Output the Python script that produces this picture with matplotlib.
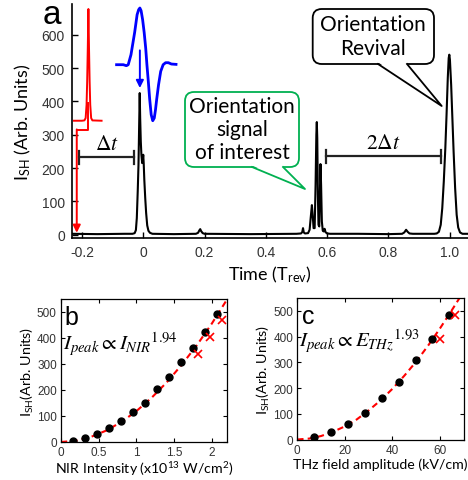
import matplotlib
matplotlib.use('Agg')
import matplotlib.pyplot as plt
from matplotlib.patches import FancyBboxPatch, Polygon
from matplotlib.lines import Line2D
from matplotlib.transforms import Affine2D

plt.rcParams['font.family'] = ['Lato', 'DejaVu Sans']
plt.rcParams['mathtext.fontset'] = 'custom'
plt.rcParams['mathtext.rm'] = 'Lato'
plt.rcParams['mathtext.it'] = 'Lato:italic'

# ---- panel a: SH signal vs time ----
trace_t = [-0.233, -0.15, -0.06, -0.035, -0.028, -0.024, -0.021, -0.018, -0.0155,
           -0.0135, -0.0115, -0.010, -0.008, -0.006, -0.0035, -0.0015, 0.0, 0.0015,
           0.0035, 0.0065, 0.0095, 0.013, 0.017, 0.022, 0.030,
           0.10, 0.172, 0.179, 0.183, 0.186, 0.189, 0.194, 0.20, 0.35,
           0.50, 0.515, 0.519, 0.5215, 0.524, 0.528, 0.538, 0.543, 0.547, 0.5505,
           0.553, 0.556, 0.5595, 0.5625, 0.565, 0.5665, 0.568, 0.570, 0.572, 0.5745,
           0.5765, 0.5785, 0.5805, 0.583, 0.586, 0.589, 0.592, 0.595, 0.600, 0.61,
           0.70, 0.80, 0.845, 0.852, 0.858, 0.863, 0.869, 0.88, 0.95,
           0.958, 0.965, 0.971, 0.976, 0.981, 0.986, 0.990, 0.994, 0.997, 0.999,
           1.001, 1.005, 1.009, 1.013, 1.018, 1.023, 1.028, 1.034, 1.042, 1.06]
trace_i = [3, 2, 3, 3, 5, 14, 50, 130, 210,
           320, 425, 350, 280, 240, 215, 225, 240, 215,
           165, 110, 65, 28, 12, 6, 3,
           2, 3, 6, 13, 17, 11, 5, 3, 2,
           3, 4, 8, 20, 7, 4, 5, 15, 55, 89,
           60, 20, 20, 150, 300, 338, 290, 120, 30, 25,
           120, 212, 150, 40, 12, 10, 18, 8, 4, 3,
           3, 2, 3, 7, 15, 9, 4, 3, 3,
           4, 9, 30, 80, 160, 260, 360, 470, 530, 540,
           525, 450, 350, 250, 140, 60, 22, 7, 3, 3]

# NIR pump pulse (red) and THz pulse (blue) sketches
nir_t = [-0.226, -0.20, -0.192, -0.188, -0.185, -0.183, -0.181, -0.179,
         -0.177, -0.175, -0.173, -0.170, -0.166, -0.136]
nir_i = [342, 342, 343, 350, 390, 460, 560, 677, 560, 460, 390, 350, 343, 342]
thz_t = [-0.087, -0.065, -0.055, -0.049, -0.040, -0.028, -0.020, -0.015, -0.011,
         -0.007, -0.002, 0.003, 0.008, 0.012, 0.017, 0.021, 0.026, 0.031, 0.036,
         0.040, 0.044, 0.050, 0.057, 0.065, 0.073, 0.082, 0.092, 0.107]
thz_i = [510, 510, 507, 510, 540, 607, 660, 675, 680, 672, 645, 607, 560, 510,
         455, 407, 360, 342, 350, 375, 407, 450, 490, 510, 516, 516, 512, 511]

a_xticks = [-0.2, 0, 0.2, 0.4, 0.6, 0.8, 1.0]
a_xticklabels = ['-0.2', '0', '0.2', '0.4', '0.6', '0.8', '1.0']
a_yticks = [0, 100, 200, 300, 400, 500, 600]

# ---- panel b: NIR intensity scan ----
b_x = [0.16, 0.32, 0.48, 0.64, 0.80, 0.96, 1.11, 1.27, 1.43, 1.59, 1.75, 1.91, 2.07]
b_y = [5, 15, 32, 54, 82, 117, 151, 204, 251, 308, 360, 423, 493]
b_xx = [1.82, 1.98, 2.13]
b_xy = [340, 405, 469]
b_fit_x = [0, 0.2, 0.4, 0.6, 0.8, 1.0, 1.2, 1.4, 1.6, 1.8, 2.0, 2.2]
b_fit_y = [0, 5, 20, 44, 77, 119, 170, 229, 297, 372, 456, 548]

# ---- panel c: THz field scan ----
c_x = [7.1, 14.2, 21.3, 28.4, 35.5, 42.6, 49.7, 56.8, 63.9]
c_y = [9, 30, 60, 104, 161, 225, 308, 391, 482]
c_xx = [59.8, 66.4]
c_xy = [391, 482]
c_fit_x = [0, 5, 10, 15, 20, 25, 30, 35, 40, 45, 50, 55, 60, 65, 68.2]
c_fit_y = [0, 3.6, 13.5, 30, 51, 78, 113, 152, 197, 248, 303, 365, 432, 503, 550]

W, H = 468, 481
fig = plt.figure(figsize=(W / 100, H / 100), dpi=100)
pix = Affine2D().scale(1 / W, -1 / H).translate(0, 1) + fig.transFigure
tickfont = dict(family='Liberation Sans', color='#333333')

# panel a
ax = fig.add_axes([71.7 / W, 1 - 239.3 / H, (468 - 71.7) / W, (239.3 - 5) / H])
ax.plot(trace_t, trace_i, color='k', lw=1.5, zorder=3)
ax.plot(nir_t, nir_i, color='red', lw=1.4)
ax.plot([-0.179, -0.179, -0.217], [395, 315, 315], color='red', lw=1.4)
ax.annotate('', xy=(-0.217, 6), xytext=(-0.217, 316),
            arrowprops=dict(arrowstyle='-|>', color='red', lw=1.4, mutation_scale=11,
                            shrinkA=0, shrinkB=0))
ax.plot(thz_t, thz_i, color='blue', lw=2.0)
ax.annotate('', xy=(-0.011, 440), xytext=(-0.011, 553),
            arrowprops=dict(arrowstyle='-|>', color='blue', lw=1.4, mutation_scale=11,
                            shrinkA=0, shrinkB=0))
for x0, x1, y, lab in [(-0.21, -0.03, 232, r'$\Delta t$'), (0.596, 0.973, 235, r'$2\Delta t$')]:
    ax.plot([x0, x1], [y, y], color='#222222', lw=1.6)
    ax.plot([x0, x0], [y - 20, y + 20], color='#222222', lw=1.6)
    ax.plot([x1, x1], [y - 20, y + 20], color='#222222', lw=1.6)
    ax.text((x0 + x1) / 2, y + 12, lab, ha='center', va='bottom', fontsize=15.5,
            math_fontfamily='stix')
ax.set_xlim(-0.2335, 1.06)
ax.set_ylim(-10.5, 692)
ax.set_xticks(a_xticks)
ax.set_xticklabels(a_xticklabels, **tickfont)
ax.set_yticks(a_yticks)
ax.set_yticklabels([str(v) for v in a_yticks], **tickfont)
ax.tick_params(direction='in', length=4, width=1, labelsize=10, pad=5)
for s in ['top', 'right']:
    ax.spines[s].set_visible(False)
for s in ['left', 'bottom']:
    ax.spines[s].set_linewidth(1.2)
ax.set_xlabel(r'Time (T$_\mathrm{rev}$)', fontsize=13, labelpad=3)
ax.set_ylabel(r'I$_\mathrm{SH}$ (Arb. Units)', fontsize=13, labelpad=6)
fig.text(43, 24, 'a', transform=pix, fontsize=24, family='Liberation Sans', va='baseline')

# callouts
def callout(x0, y0, x1, y1, base, tip, color, lines, ys, cx):
    box = FancyBboxPatch((x0, y0), x1 - x0, y1 - y0, boxstyle='round,pad=0,rounding_size=9',
                         transform=pix, fc='white', ec=color, lw=1.3, zorder=5)
    fig.add_artist(box)
    fig.add_artist(Polygon([(base[0] + 0.8, y1 - 1.2), tip, (base[1] - 0.8, y1 - 1.2)],
                           closed=True, fc='white', ec='none', transform=pix, zorder=6))
    fig.add_artist(Line2D([base[0], tip[0], base[1]], [y1, tip[1], y1], color=color,
                          lw=1.3, transform=pix, zorder=7))
    for txt, yy in zip(lines, ys):
        fig.text(cx, yy, txt, transform=pix, ha='center', va='center', fontsize=15,
                 zorder=8)

callout(312.7, 10, 434, 65, (378, 407), (441.7, 107), 'black',
        ['Orientation', 'Revival'], [25, 49], 373)
callout(185, 93, 299, 168, (252, 283), (305, 190), '#00b050',
        ['Orientation', 'signal', 'of interest'], [107, 130, 153], 242)

# panels b and c
def scan_panel(rect, x, y, xx, xy, fx, fy, xlim, xticks, xticklabels, xlabel, eq, letter,
               lpos, eqy):
    a = fig.add_axes(rect)
    a.plot(fx, fy, color='red', lw=1.5, ls=(0, (3, 2)), zorder=2)
    a.plot(x, y, 'o', color='black', ms=5, zorder=3)
    a.plot(xx, xy, 'x', color='red', ms=6, mew=1.2, zorder=3)
    a.set_xlim(*xlim)
    a.set_ylim(0, 550)
    a.set_xticks(xticks)
    a.set_xticklabels(xticklabels, **tickfont)
    a.set_yticks([0, 100, 200, 300, 400, 500])
    a.set_yticklabels(['0', '100', '200', '300', '400', '500'], **tickfont)
    a.tick_params(direction='in', length=3, width=0.8, labelsize=8.5, top=True, right=True,
                  pad=3)
    for s in a.spines.values():
        s.set_linewidth(0.9)
    a.set_xlabel(xlabel, fontsize=10.2, labelpad=1)
    a.set_ylabel(r'I$_\mathrm{SH}$(Arb. Units)', fontsize=10.4, labelpad=1)
    a.text(lpos[0], eqy, eq, transform=a.transAxes, fontsize=15, math_fontfamily='stix',
           va='baseline')
    a.text(lpos[1], 0.955, letter, transform=a.transAxes, fontsize=18,
           family='Liberation Sans', va='top')
    return a

scan_panel([61 / W, 1 - 443 / H, 166 / W, 143 / H], b_x, b_y, b_xx, b_xy, b_fit_x, b_fit_y,
           (0, 2.2), [0, 0.5, 1, 1.5, 2], ['0', '0.5', '1', '1.5', '2'],
           r'NIR Intensity (x10$^\mathrm{13}$ W/cm$^\mathrm{2}$)',
           r'$I_{peak} \propto {I_{NIR}}^{1.94}$', 'b', (0.012, 0.02), 0.65)
scan_panel([297.3 / W, 1 - 440.5 / H, 166.5 / W, 141.5 / H], c_x, c_y, c_xx, c_xy, c_fit_x,
           c_fit_y, (0, 70), [0, 20, 40, 60], ['0', '20', '40', '60'],
           'THz field amplitude (kV/cm)',
           r'$I_{peak} \propto {E_{THz}}^{1.93}$', 'c', (0.012, 0.03), 0.66)

fig.savefig('out.png', dpi=100)
